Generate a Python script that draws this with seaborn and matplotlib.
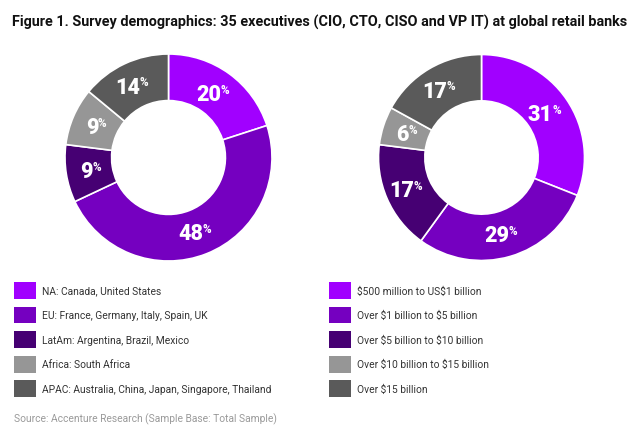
import matplotlib
matplotlib.use("Agg")
import matplotlib.pyplot as plt
import matplotlib.patches as mpatches
import numpy as np
import seaborn as sns

# ---- data ----
title = "Figure 1. Survey demographics: 35 executives (CIO, CTO, CISO and VP IT) at global retail banks"
region_labels = ["NA: Canada, United States", "EU: France, Germany, Italy, Spain, UK",
                 "LatAm: Argentina, Brazil, Mexico", "Africa: South Africa",
                 "APAC: Australia, China, Japan, Singapore, Thailand"]
region_values = [20, 48, 9, 9, 14]
revenue_labels = ["$500 million to US$1 billion", "Over $1 billion to $5 billion",
                  "Over $5 billion to $10 billion", "Over $10 billion to $15 billion",
                  "Over $15 billion"]
revenue_values = [31, 29, 17, 6, 17]
palette = ["#A100FF", "#7500C0", "#460073", "#969696", "#5A5A5A"]
source = "Source: Accenture Research (Sample Base: Total Sample)"

sns.set_theme(style="white")
plt.rcParams['font.family'] = ['Roboto', 'DejaVu Sans']
plt.rcParams['text.parse_math'] = False
colors = sns.color_palette(palette)

W, H = 642, 431
fig = plt.figure(figsize=(W / 100, H / 100), dpi=100)
fig.patch.set_facecolor("white")

fig.text(12 / W, 1 - 22 / H, title, fontsize=10.35, fontweight="bold", color="#111111",
         ha="left", va="center")


def donut(cx, cy, r, values):
    ax = fig.add_axes([(cx - r) / W, 1 - (cy + r) / H, 2 * r / W, 2 * r / H])
    wedges, _ = ax.pie(values, colors=colors, startangle=90, counterclock=False,
                       radius=1.0, wedgeprops=dict(width=0.45, edgecolor="white", linewidth=1.2))
    ax.set_xlim(-1, 1)
    ax.set_ylim(-1, 1)
    ax.set_aspect("equal")
    ax.axis("off")
    for w, v in zip(wedges, values):
        ang = np.deg2rad((w.theta1 + w.theta2) / 2)
        x, y = 0.77 * np.cos(ang), 0.77 * np.sin(ang)
        jx = 4 if v >= 10 else 2
        ax.annotate(f"{v}", (x, y), xytext=(jx, -1), textcoords="offset points",
                    ha="right", va="center", fontsize=15.5, fontweight="black", color="white")
        ax.annotate("%", (x, y), xytext=(jx - 0.3, 2.5), textcoords="offset points",
                    ha="left", va="center", fontsize=8.5, fontweight="bold", color="white")
    return ax


donut(168.5, 158.5, 103.5, region_values)
donut(481.5, 158.5, 103, revenue_values)


def legend(x, labels):
    handles = [mpatches.Patch(facecolor=c, edgecolor="none") for c in colors]
    fig.legend(handles, labels, loc="upper left", bbox_to_anchor=(x / W, 1 - 283 / H),
               frameon=False, fontsize=7.4, handlelength=2.15, handleheight=2.15,
               labelspacing=0.75, handletextpad=0.6, borderaxespad=0, borderpad=0,
               labelcolor="#333333")


legend(14, region_labels)
legend(329, revenue_labels)

fig.text(14 / W, 1 - 419 / H, source, fontsize=7.4, color="#9a9a9a", ha="left", va="center")

fig.savefig("out.png", dpi=100, facecolor="white")
